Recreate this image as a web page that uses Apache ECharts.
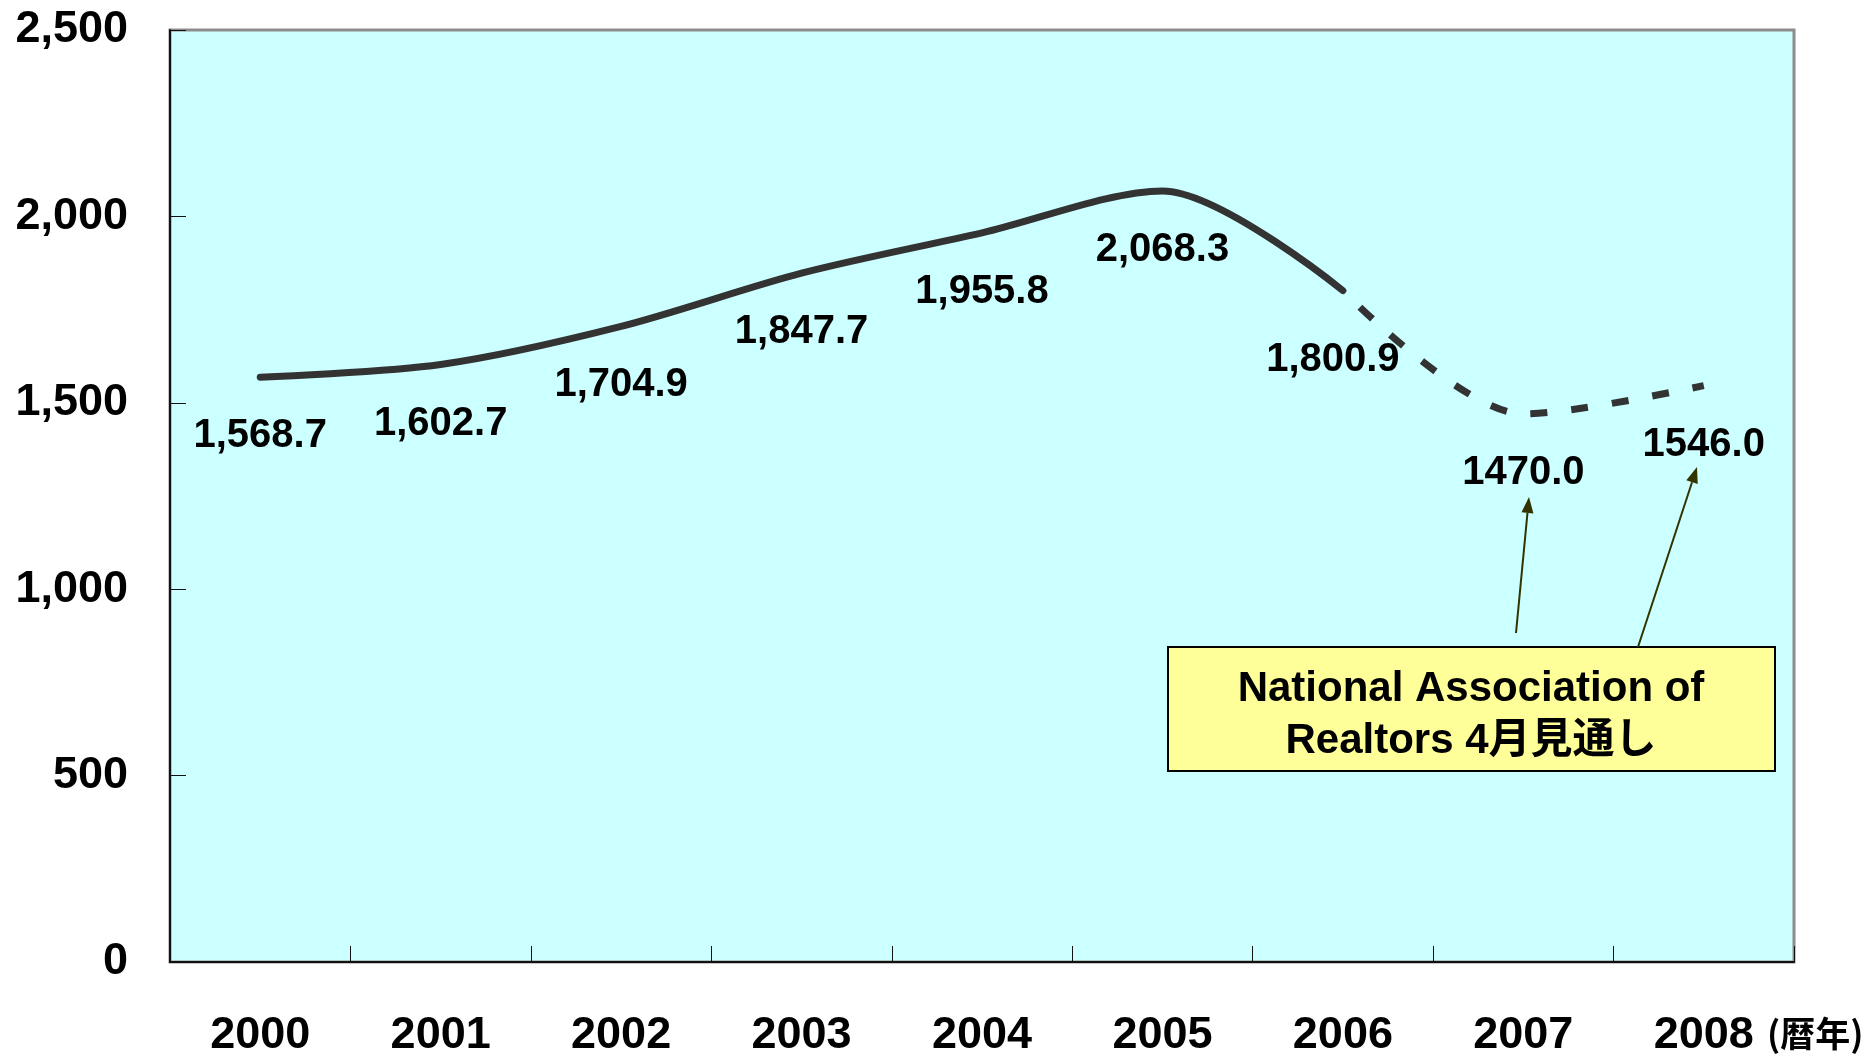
<!DOCTYPE html>
<html>
<head>
<meta charset="utf-8">
<script src="https://cdn.jsdelivr.net/npm/echarts@6/dist/echarts.min.js"></script>
<style>
  html, body { margin: 0; padding: 0; background: #ffffff; }
  #chart { width: 1872px; height: 1058px; }
</style>
</head>
<body>
<div id="chart"></div>
<script>
// Existing-home sales (万戸), calendar years
const years = ['2000', '2001', '2002', '2003', '2004', '2005', '2006', '2007', '2008'];
const actualSales = [1568.7, 1602.7, 1704.9, 1847.7, 1955.8, 2068.3, 1800.9, null, null];
const forecastSales = [null, null, null, null, null, null, 1800.9, 1470.0, 1546.0];
const yAxisMax = 2500;
const yAxisStep = 500;
const noteLines = ['National Association of', 'Realtors 4月見通し'];
const unitLabel = '(暦年)';

const LATIN = '"Liberation Sans", Arial, "Noto Sans CJK JP", sans-serif';
const CJK = '"Liberation Sans", "Noto Sans CJK JP", sans-serif';
const LINE_COLOR = '#333333';

const withComma = v => v.toLocaleString('en-US', { minimumFractionDigits: 1, maximumFractionDigits: 1 });

const chart = echarts.init(document.getElementById('chart'), null, { renderer: 'canvas' });

const labelStyle = {
  show: true,
  position: 'bottom',
  distance: 38,
  color: '#000',
  fontFamily: LATIN,
  fontWeight: 'bold',
  fontSize: 40
};

// invisible point markers so the value labels have an anchor
const hiddenPoint = {
  symbol: 'circle',
  symbolSize: 2,
  showSymbol: true,
  itemStyle: { color: 'rgba(0,0,0,0)', borderWidth: 0 }
};

// the last actual value sits where the solid and dashed lines meet,
// so its label is nudged down-left to stay clear of the dashes
const actualData = actualSales.map((v, i) =>
  i === 6 ? { value: v, label: { offset: [-10, 10] } } : v
);

chart.setOption({
  animation: false,
  backgroundColor: '#ffffff',
  grid: {
    left: 170, right: 78, top: 30, bottom: 90,
    show: true,
    backgroundColor: '#CCFFFF',
    borderColor: '#8c8c8c',
    borderWidth: 3
  },
  xAxis: {
    type: 'category',
    data: years,
    boundaryGap: true,
    axisLine: { show: true, lineStyle: { color: '#111', width: 2 } },
    axisTick: { show: true, inside: true, length: 16, lineStyle: { color: '#111', width: 1 } },
    axisLabel: {
      margin: 51, color: '#000', fontFamily: LATIN, fontWeight: 'bold', fontSize: 45
    },
    splitLine: { show: false }
  },
  yAxis: {
    type: 'value',
    min: 0, max: yAxisMax, interval: yAxisStep,
    axisLine: { show: true, lineStyle: { color: '#111', width: 2 } },
    axisTick: { show: true, inside: true, length: 16, lineStyle: { color: '#111', width: 1 } },
    axisLabel: {
      margin: 42, color: '#000', fontFamily: LATIN, fontWeight: 'bold', fontSize: 45,
      padding: [7, 0, 0, 0],
      formatter: v => v.toLocaleString('en-US')
    },
    splitLine: { show: false }
  },
  series: [
    Object.assign({
      name: 'actual',
      type: 'line',
      data: actualData,
      smooth: 0.3,
      connectNulls: false,
      lineStyle: { color: LINE_COLOR, width: 7, cap: 'round', join: 'round' },
      label: Object.assign({}, labelStyle, { formatter: p => withComma(p.value) }),
      z: 3
    }, hiddenPoint),
    Object.assign({
      name: 'forecast',
      type: 'line',
      data: forecastSales,
      smooth: 0.3,
      lineStyle: { color: LINE_COLOR, width: 7, type: [17, 24], dashOffset: -24, cap: 'butt' },
      label: Object.assign({}, labelStyle, {
        formatter: p => (p.dataIndex > 6 ? p.value.toFixed(1) : '')
      }),
      z: 2
    }, hiddenPoint)
  ]
});

// Forecast note box with arrows pointing to the 2007 / 2008 labels
function arrow(x1, y1, x2, y2) {
  const dx = x2 - x1, dy = y2 - y1;
  const len = Math.sqrt(dx * dx + dy * dy);
  const ux = dx / len, uy = dy / len;
  const headLen = 16, headHalf = 6;
  const bx = x2 - ux * headLen, by = y2 - uy * headLen;
  return [
    {
      type: 'line', z: 10,
      shape: { x1: x1, y1: y1, x2: bx, y2: by },
      style: { stroke: '#333300', lineWidth: 2 }
    },
    {
      type: 'polygon', z: 10,
      shape: { points: [[x2, y2], [bx - uy * headHalf, by + ux * headHalf], [bx + uy * headHalf, by - ux * headHalf]] },
      style: { fill: '#333300' }
    }
  ];
}

chart.setOption({
  graphic: [
    {
      type: 'rect', z: 10,
      shape: { x: 1168, y: 647, width: 607, height: 124 },
      style: { fill: '#FFFF99', stroke: '#000', lineWidth: 2 }
    },
    {
      type: 'text', z: 11,
      x: 1471, y: 715,
      style: {
        text: noteLines.join('\n'),
        align: 'center', verticalAlign: 'middle',
        lineHeight: 52,
        fill: '#000', font: 'bold 42px ' + CJK
      }
    },
    ...arrow(1516, 633, 1529, 497),
    ...arrow(1638, 647, 1697, 467),
    {
      type: 'text', z: 11,
      x: 1767, y: 1034,
      style: {
        text: unitLabel,
        align: 'left', verticalAlign: 'middle',
        fill: '#000', font: 'bold 35px "Noto Sans CJK JP", sans-serif'
      }
    }
  ]
});
</script>
</body>
</html>
